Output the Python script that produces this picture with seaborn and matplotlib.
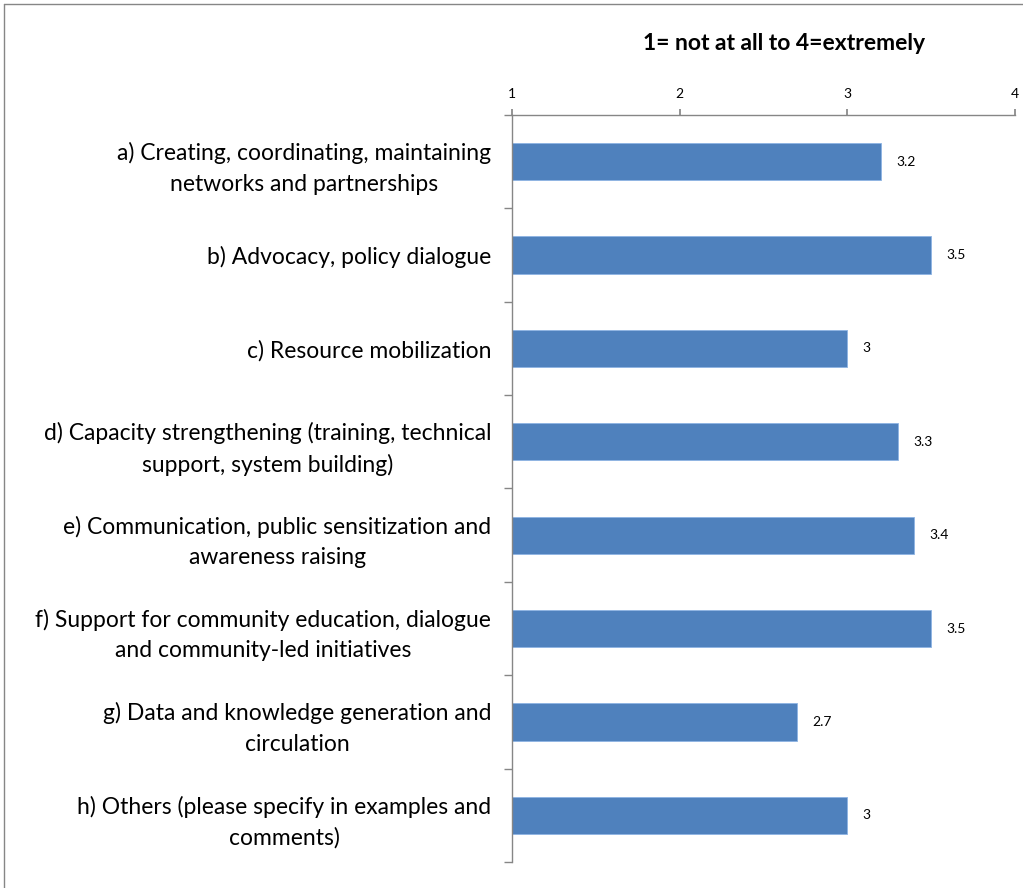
import matplotlib
matplotlib.use("Agg")
import matplotlib.pyplot as plt
import seaborn as sns
import pandas as pd
import numpy as np
from matplotlib.lines import Line2D

categories = [
    "a) Creating, coordinating, maintaining\nnetworks and partnerships",
    "b) Advocacy, policy dialogue",
    "c) Resource mobilization",
    "d) Capacity strengthening (training, technical\nsupport, system building)",
    "e) Communication, public sensitization and\nawareness raising",
    "f) Support for community education, dialogue\nand community-led initiatives",
    "g) Data and knowledge generation and\ncirculation",
    "h) Others (please specify in examples and\ncomments)",
]
values = [3.2, 3.5, 3, 3.3, 3.4, 3.5, 2.7, 3]
value_labels = ["3.2", "3.5", "3", "3.3", "3.4", "3.5", "2.7", "3"]
x_ticks = [1, 2, 3, 4]
title = "1= not at all to 4=extremely"

sns.set_theme(style="white")
plt.rcParams['font.family'] = ['Lato', 'DejaVu Sans']
plt.rcParams['text.color'] = 'black'
plt.rcParams['xtick.color'] = 'black'
plt.rcParams['ytick.color'] = 'black'

df = pd.DataFrame({"category": categories, "value": values})

fig = plt.figure(figsize=(10.23, 8.88), dpi=100)
ax = fig.add_axes([512/1023, 1-862/888, (1015-512)/1023, (862-115)/888])

sns.barplot(data=df, x="value", y="category", orient="h", color="#4F81BD",
            saturation=1, width=0.4, ax=ax, edgecolor="#8EB4E3", linewidth=0.6)

ax.set_xlim(1, 4)
ax.set_ylim(len(categories) - 0.5, -0.5)
ax.set_xticks(x_ticks)
ax.set_xticklabels([str(t) for t in x_ticks], fontsize=10)
ax.xaxis.tick_top()
ax.tick_params(axis="x", which="major", direction="out", length=4, color="#868686",
               pad=7, labelsize=10, top=True, bottom=False, labelcolor="black")
ax.set_xlabel("")
ax.set_ylabel("")

ax.set_yticks(range(len(categories)))
ax.set_yticklabels(categories, fontsize=16.5, linespacing=1.55)
for lab in ax.get_yticklabels():
    lab.set_multialignment("center")
ax.set_yticks(np.arange(-0.5, len(categories), 1.0), minor=True)
ax.tick_params(axis="y", which="major", length=0, pad=15, labelcolor="black")
ax.tick_params(axis="y", which="minor", direction="out", length=6, color="#868686", left=True)

for s in ["right", "bottom"]:
    ax.spines[s].set_visible(False)
for s in ["top", "left"]:
    ax.spines[s].set_visible(True)
    ax.spines[s].set_color("#868686")
    ax.spines[s].set_linewidth(1)

for container in ax.containers:
    ax.bar_label(container, labels=value_labels, padding=11, fontsize=10, color="black")

fig.text(784/1023, 1-44/888, title, ha="center", va="center", fontsize=16.5,
         fontweight="bold", color="black")

fig.add_artist(Line2D([4/1023, 4/1023], [0, 1-4/888], transform=fig.transFigure, color="#868686", lw=1))
fig.add_artist(Line2D([4/1023, 1], [1-4/888, 1-4/888], transform=fig.transFigure, color="#868686", lw=1))

fig.savefig("out.png", dpi=100)
